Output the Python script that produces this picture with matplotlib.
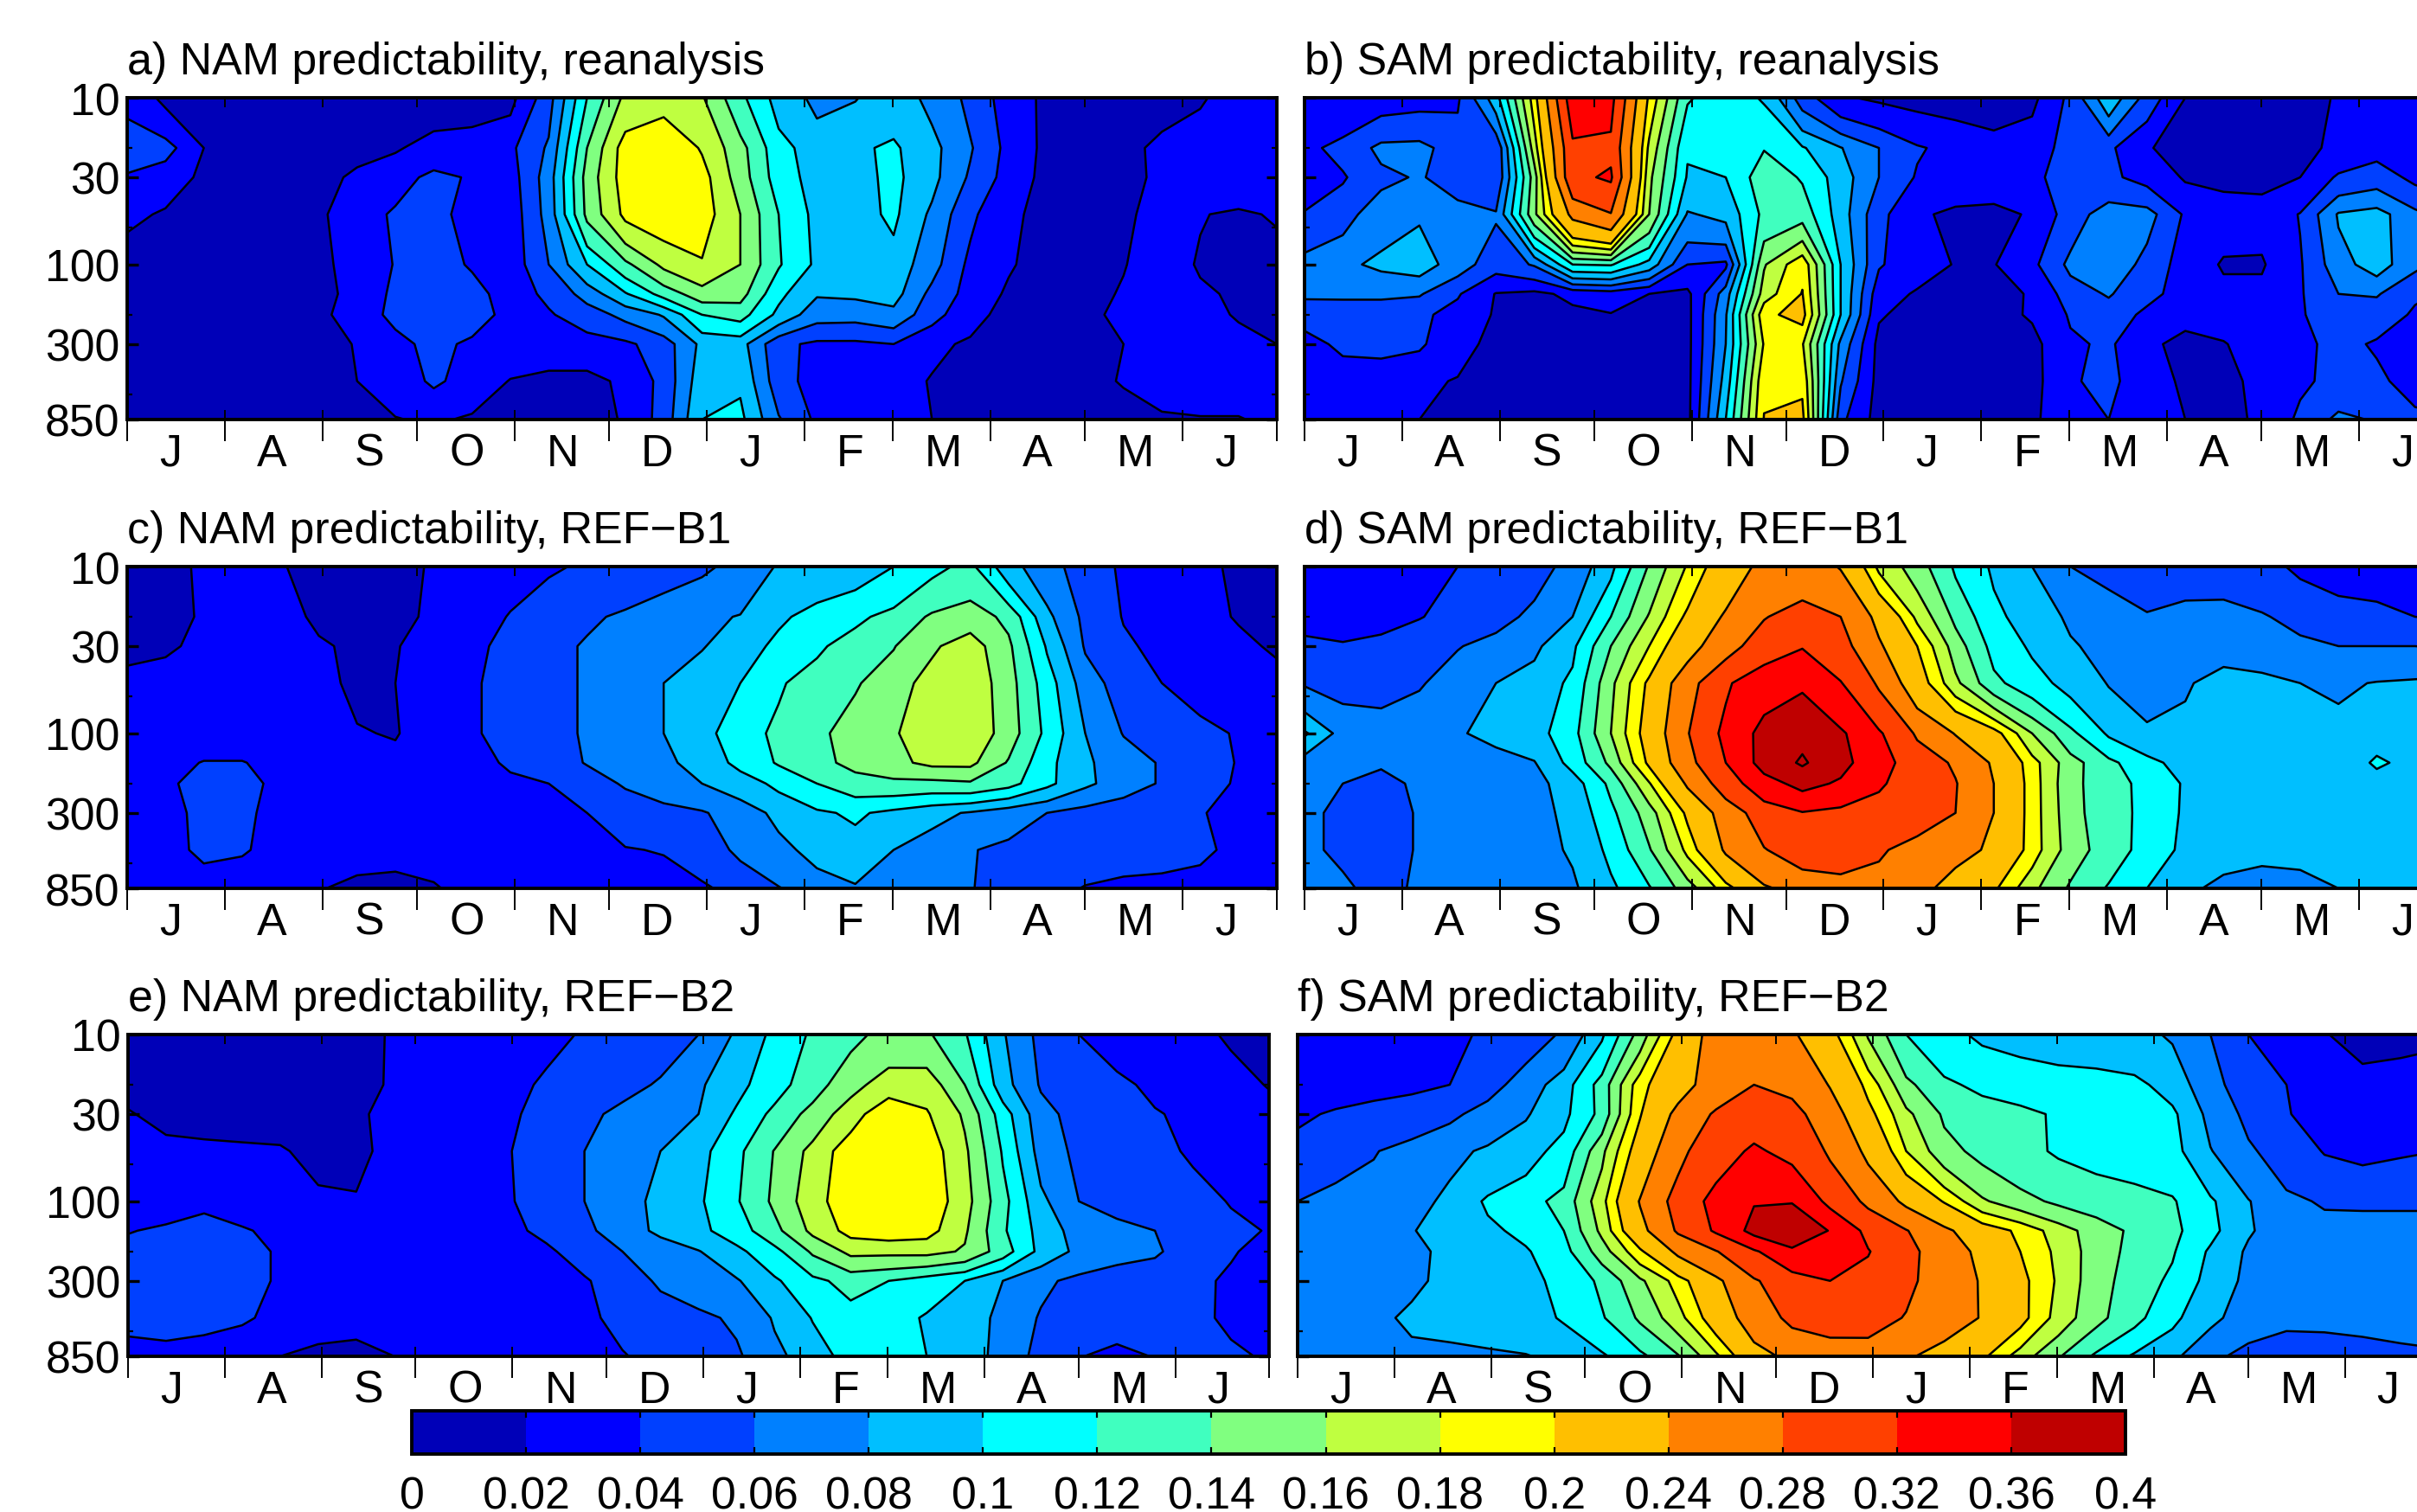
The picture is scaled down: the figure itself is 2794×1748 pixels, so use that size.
import numpy as np
import matplotlib
matplotlib.use('Agg')
import matplotlib.pyplot as plt
from matplotlib.ticker import FixedLocator, NullFormatter

plt.rcParams['font.family'] = ['Liberation Sans', 'DejaVu Sans']

# values, in 1/1000, rows = pressure, columns = time
pressure = [10, 20, 30, 50, 100, 150, 200, 300, 500, 850]
n_time = 31
month_names = ['J', 'A', 'S', 'O', 'N', 'D', 'J', 'F', 'M', 'A', 'M', 'J']
month_days = [31, 31, 30, 31, 30, 31, 31, 28, 31, 30, 31, 30]
pressure_labels = [10, 30, 100, 300, 850]
pressure_minor = [20, 60, 200, 600]
levels = [0, .02, .04, .06, .08, .1, .12, .14, .16, .18, .2, .24, .28, .32, .36, .4]
level_labels = ['0', '0.02', '0.04', '0.06', '0.08', '0.1', '0.12', '0.14', '0.16',
                '0.18', '0.2', '0.24', '0.28', '0.32', '0.36', '0.4']
colors = ['#0000b8', '#0000ff', '#0040ff', '#0080ff', '#00bfff', '#00ffff', '#40ffbf',
          '#80ff80', '#bfff40', '#ffff00', '#ffbf00', '#ff8000', '#ff4000', '#ff0000', '#bf0000']

nam_reanalysis = [
    [35,15,12,10,10,10,10,10,10,10,14,52,120,165,172,162,125,92,75,79,90,75,55,30,16,12,12,14,18,28,30],
    [50,48,20,10,10,10,12,18,27,30,36,63,140,190,198,178,147,107,90,97,103,86,62,34,15,12,15,24,30,34,40],
    [38,28,17,11,10,11,25,32,45,38,31,70,148,190,190,188,150,110,92,93,105,86,57,32,14,10,14,24,30,34,36],
    [24,18,12,10,12,17,30,43,45,34,28,68,145,185,192,190,160,120,94,92,104,76,44,24,14,12,17,26,21,17,22],
    [10,10,10,10,12,15,28,41,48,38,28,60,100,135,165,178,160,122,96,90,92,68,35,22,12,12,19,30,18,14,12],
    [10,10,10,10,10,13,27,44,49,47,31,44,68,98,128,152,148,105,82,84,88,54,33,17,12,13,22,30,23,17,13],
    [10,10,10,10,10,15,30,45,50,50,33,38,50,66,82,120,128,95,68,67,74,48,25,15,12,15,25,30,27,18,14],
    [10,10,10,10,10,14,21,34,46,36,32,32,32,36,50,85,88,45,36,36,40,23,18,13,12,13,20,27,30,27,20],
    [10,10,10,10,10,13,20,30,43,33,19,14,14,24,46,92,97,48,32,30,26,19,15,13,13,16,21,26,28,28,26],
    [14,10,10,10,10,11,14,19,23,17,13,12,12,22,48,100,105,62,36,33,28,20,15,13,13,13,14,18,19,19,24],
]

sam_reanalysis = [
    [30,24,30,33,37,92,190,345,332,195,122,110,98,50,22,17,14,12,12,15,45,95,52,20,15,12,12,22,28,28,28],
    [35,46,65,66,50,42,170,312,312,175,102,108,119,102,81,60,42,34,26,32,46,44,21,15,13,13,15,24,33,35,33],
    [32,38,55,62,50,42,150,312,325,165,98,100,132,118,90,60,38,32,30,37,46,44,33,18,16,16,20,43,50,35,32],
    [41,52,72,78,68,62,155,250,278,160,78,86,125,132,90,46,23,16,15,22,50,70,68,37,28,26,41,82,88,65,50],
    [68,76,84,90,70,48,62,120,122,92,40,36,158,195,100,42,28,19,19,35,65,78,52,32,18,18,38,72,90,65,50],
    [63,64,64,62,42,19,15,25,30,20,15,70,170,201,100,28,18,13,13,22,50,62,45,33,25,25,38,60,62,42,38],
    [50,48,48,44,33,18,13,15,19,15,14,78,195,208,100,22,13,12,14,22,42,50,36,27,27,28,38,52,48,38,38],
    [30,46,48,43,26,15,12,12,12,12,14,80,182,182,75,14,12,11,11,14,37,43,25,13,19,28,36,45,38,28,25],
    [24,24,24,23,19,13,11,11,11,11,14,88,196,196,62,13,11,11,11,13,38,45,28,17,16,24,37,45,44,32,25],
    [27,26,24,20,14,11,11,11,11,11,14,100,201,206,45,12,11,11,11,15,38,40,30,20,15,23,44,65,58,45,42],
]

nam_b1 = [
    [15,18,21,24,21,15,14,17,21,28,34,38,42,47,52,57,65,82,85,90,100,115,125,87,68,50,37,30,24,17,13],
    [14,17,21,24,26,17,13,14,24,32,41,50,57,63,70,76,81,96,108,116,126,143,150,135,85,55,39,30,24,19,13],
    [13,18,23,26,26,22,17,19,27,36,45,54,62,68,74,79,88,106,117,128,139,157,170,144,98,58,43,35,28,23,18],
    [28,26,24,26,28,24,17,20,29,38,46,54,62,71,80,89,100,118,128,138,151,168,175,148,110,70,50,40,32,27,25],
    [30,29,28,28,27,24,21,19,28,38,46,54,62,71,80,93,112,124,135,150,158,172,176,150,115,80,59,53,46,38,30],
    [28,33,41,41,33,28,25,24,28,33,43,52,61,68,76,87,106,122,134,146,155,165,165,138,106,83,70,58,48,39,32],
    [27,37,46,45,36,30,27,26,28,32,36,40,52,62,70,80,90,105,120,132,135,134,137,127,105,84,70,58,47,38,33],
    [26,35,44,43,35,30,27,25,26,28,30,34,40,49,54,58,70,85,97,103,95,86,78,68,60,52,47,44,41,35,30],
    [24,32,45,42,33,28,26,24,24,25,26,28,34,39,41,50,64,74,87,92,80,70,61,56,52,49,47,46,43,36,32],
    [26,28,28,27,25,21,16,16,19,24,25,26,28,30,32,37,47,59,70,78,72,67,61,52,46,39,36,35,34,34,33],
]

sam_b1 = [
    [24,27,30,34,40,47,54,65,95,142,182,218,250,258,238,175,150,117,97,80,60,57,53,51,49,45,37,32,30,28,28],
    [37,30,30,39,47,54,64,80,120,162,205,245,278,295,280,230,175,135,105,90,77,65,61,66,68,62,53,48,46,40,38],
    [42,42,48,53,59,66,76,96,140,180,225,265,300,318,295,245,200,150,113,97,82,74,72,73,73,70,65,60,60,60,58],
    [58,54,50,58,70,80,88,104,155,205,265,315,345,355,322,275,215,165,125,108,93,79,70,78,87,85,80,77,81,83,85],
    [103,72,74,76,79,83,92,113,160,213,278,330,372,390,366,325,275,238,210,160,125,97,84,85,86,86,86,86,92,90,86],
    [70,65,62,68,74,76,79,107,145,205,268,320,375,405,372,335,300,275,235,188,148,125,106,92,88,87,87,87,103,94,87],
    [62,60,55,63,68,70,74,90,125,178,245,300,345,372,355,325,300,282,240,190,145,130,113,98,92,90,89,88,92,90,88],
    [62,58,50,62,67,70,74,85,115,150,205,258,300,318,310,305,300,280,240,190,147,128,115,97,91,89,88,87,87,87,85],
    [62,58,50,62,68,71,74,82,105,138,185,245,278,300,300,285,265,250,235,190,150,130,113,95,87,85,85,85,85,85,84],
    [65,62,56,62,67,70,73,77,96,118,150,190,235,255,265,265,252,225,204,165,137,118,100,84,75,71,74,80,84,85,85],
]

nam_b2 = [
    [13,12,12,12,12,13,17,21,25,29,32,37,41,46,52,60,83,105,123,135,146,143,122,82,54,40,34,30,24,18,14],
    [16,14,13,12,12,13,15,22,27,31,36,42,48,54,62,77,94,112,131,153,170,172,140,88,58,50,43,37,32,26,19],
    [21,16,15,15,16,17,18,24,30,33,37,46,55,65,72,80,103,125,147,171,195,182,157,110,67,52,47,41,37,33,26],
    [26,24,23,22,21,17,17,24,31,35,39,50,60,70,80,93,115,141,166,192,198,192,164,118,72,55,50,44,38,35,32],
    [27,31,36,30,26,22,21,25,30,34,38,50,60,74,84,97,118,144,172,193,197,195,168,127,85,60,54,51,46,39,35],
    [39,43,47,42,35,28,23,24,28,32,36,44,55,71,84,95,110,134,165,187,192,188,163,123,93,71,65,60,50,44,39],
    [46,48,48,46,38,30,25,25,27,30,33,37,48,60,70,79,95,114,143,165,165,166,158,130,94,75,67,63,49,41,36],
    [45,48,48,46,38,30,25,24,25,27,30,34,38,50,63,70,78,97,115,127,120,110,100,80,64,55,50,47,43,38,34],
    [45,48,45,42,36,30,26,24,24,25,27,31,37,44,50,56,63,82,101,112,108,98,88,76,58,53,50,47,44,37,32],
    [33,33,32,29,20,14,14,20,24,26,29,32,36,39,45,51,57,75,90,108,112,100,89,74,53,41,34,41,44,43,38],
]

sam_b2 = [
    [25,27,30,34,37,42,52,62,97,148,208,258,272,245,210,158,120,105,97,93,90,88,85,78,60,40,30,21,13,15,17],
    [29,32,34,36,40,53,68,91,128,192,225,258,280,271,238,193,145,124,115,112,109,108,105,92,66,50,40,32,27,28,30],
    [37,42,46,50,56,67,78,95,126,198,250,285,305,292,258,208,165,137,130,124,118,115,112,104,74,55,41,33,30,30,31],
    [46,55,59,66,75,83,92,107,155,215,270,305,325,310,275,232,180,147,134,125,118,114,112,107,81,63,50,39,35,38,40],
    [60,64,67,72,85,103,112,127,173,242,295,332,358,358,310,272,232,198,163,147,136,130,126,122,103,81,64,58,58,58,58],
    [64,67,69,79,88,96,105,120,165,228,285,325,372,392,358,310,282,248,215,195,170,150,136,125,106,82,70,66,65,65,65],
    [66,69,70,76,84,91,98,113,150,195,248,278,315,352,340,322,290,262,230,200,175,150,134,122,97,77,68,66,65,65,65],
    [66,69,71,77,84,90,95,105,124,156,188,232,276,303,320,308,288,262,237,207,177,148,131,116,93,75,68,66,65,65,65],
    [68,70,76,83,84,86,92,102,118,143,172,215,260,288,298,295,278,258,238,208,172,146,126,105,84,72,66,66,66,66,66],
    [70,72,74,76,77,78,79,85,97,115,138,175,225,250,258,262,245,225,205,170,142,116,97,84,66,52,45,47,52,56,58],
]

titles = ['a) NAM predictability, reanalysis', 'b) SAM predictability, reanalysis',
          'c) NAM predictability, REF\u2212B1', 'd) SAM predictability, REF\u2212B1',
          'e) NAM predictability, REF\u2212B2', 'f) SAM predictability, REF\u2212B2']
fields = [nam_reanalysis, sam_reanalysis, nam_b1, sam_b1, nam_b2, sam_b2]

W, H = 2794, 1749
# panel boxes in pixels: left, right, top, bottom
boxes = [(147, 1476, 114, 486), (1508, 2836, 114, 486),
         (147, 1476, 656, 1028), (1508, 2836, 656, 1028),
         (148, 1467, 1197, 1569), (1500, 2819, 1197, 1569)]
FS = 18.7

fig = plt.figure(figsize=(W / 200, H / 200), dpi=200)
time = np.linspace(0, 365, n_time)
edges = np.cumsum([0] + month_days)
label_x = edges[:-1] + 10.2

for i, (field, title, box) in enumerate(zip(fields, titles, boxes)):
    l, r, t, b = box
    ax = fig.add_axes([l / W, 1 - b / H, (r - l) / W, (b - t) / H])
    z = np.array(field) / 1000
    cf = ax.contourf(time, pressure, np.minimum(z, levels[-1]), levels=levels, colors=colors)
    ax.contour(time, pressure, z, levels=levels[1:], colors='k', linewidths=0.9)
    ax.set_yscale('log')
    ax.set_ylim(850, 10)
    ax.set_xlim(0, 365)

    ax.yaxis.set_major_locator(FixedLocator(pressure_labels))
    ax.yaxis.set_minor_locator(FixedLocator(pressure_minor))
    if i % 2 == 0:
        ax.yaxis.set_major_formatter(plt.FixedFormatter([str(p) for p in pressure_labels]))
    else:
        ax.yaxis.set_major_formatter(NullFormatter())
    ax.yaxis.set_minor_formatter(NullFormatter())
    ax.tick_params(axis='y', which='major', direction='in', left=True, right=True,
                   length=4.5, width=1.2, labelsize=FS, pad=3)
    ax.tick_params(axis='y', which='minor', direction='in', left=True, right=True,
                   length=2, width=0.8)

    ax.xaxis.remove_overlapping_locs = False
    ax.xaxis.set_major_locator(FixedLocator(edges))
    ax.xaxis.set_minor_locator(FixedLocator(edges))
    ax.xaxis.set_major_formatter(NullFormatter())
    ax.xaxis.set_minor_formatter(NullFormatter())
    ax.tick_params(axis='x', which='major', direction='in', top=True, bottom=True,
                   length=4, width=0.7)
    ax.tick_params(axis='x', which='minor', direction='out', top=False, bottom=True,
                   length=9, width=0.7)
    for x, name in zip(label_x, month_names):
        ax.text(x, -0.105, name, transform=ax.get_xaxis_transform(), ha='left', va='center',
                fontsize=FS, clip_on=False)
    for s in ax.spines.values():
        s.set_linewidth(1.4)
    ax.text(0, 1.045, title, transform=ax.transAxes, fontsize=FS, ha='left', va='bottom')

cax = fig.add_axes([476 / W, 1 - 1682 / H, (2457 - 476) / W, 50 / H])
cbar = fig.colorbar(cf, cax=cax, orientation='horizontal', spacing='uniform', ticks=levels)
cbar.ax.set_xticklabels(level_labels)
cbar.ax.tick_params(axis='x', direction='in', top=True, bottom=True, length=3, width=0.8,
                    labelsize=FS, pad=9)
cbar.ax.minorticks_off()
cbar.outline.set_linewidth(1.4)

fig.savefig('out.png', dpi=200)
